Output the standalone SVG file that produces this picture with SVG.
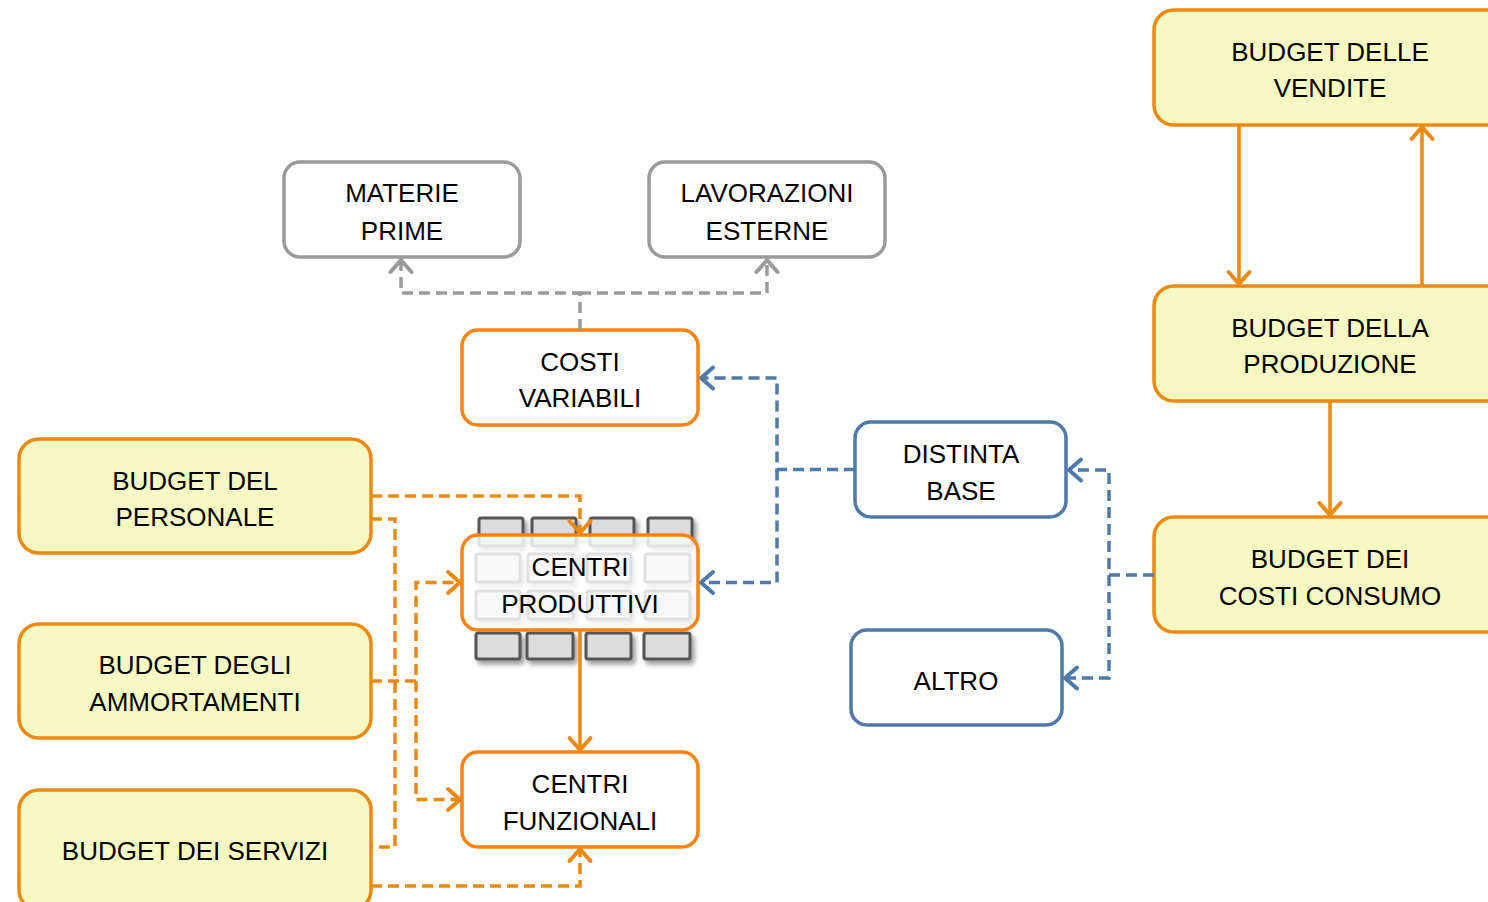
<svg xmlns="http://www.w3.org/2000/svg" width="1488" height="902" viewBox="0 0 1488 902">
<style>
  text { font-family: "Liberation Sans", Arial, sans-serif; font-size: 26px; fill: #000; text-anchor: middle; }
  .yb { fill: #F6FAC2; stroke: #EE8910; stroke-width: 3.5; }
  .ob { fill: #FFFFFF; stroke: #FA820F; stroke-width: 3.5; }
  .gb { fill: #FFFFFF; stroke: #9A9A9A; stroke-width: 3.5; }
  .bb { fill: #FFFFFF; stroke: #4E79A8; stroke-width: 3.5; }
  .cell { fill: #DCDCDC; stroke: #555555; stroke-width: 3; }
  .c { fill: none; stroke-width: 3.5; }
  .orange { stroke: #EE8910; }
  .gray { stroke: #9A9A9A; }
  .blue { stroke: #4E79A8; }
  .dash { stroke-dasharray: 11 6; }
</style>
<defs>
  <marker id="aO" markerUnits="userSpaceOnUse" viewBox="-16 -14 19 28" markerWidth="19" markerHeight="28" refX="0" refY="0" orient="auto">
    <path d="M-12,-10.5 L0,0 L-12,10.5" fill="none" stroke="#EE8910" stroke-width="4" stroke-linecap="round" stroke-linejoin="round"/>
  </marker>
  <marker id="aG" markerUnits="userSpaceOnUse" viewBox="-16 -14 19 28" markerWidth="19" markerHeight="28" refX="0" refY="0" orient="auto">
    <path d="M-12,-10.5 L0,0 L-12,10.5" fill="none" stroke="#9A9A9A" stroke-width="4" stroke-linecap="round" stroke-linejoin="round"/>
  </marker>
  <marker id="aB" markerUnits="userSpaceOnUse" viewBox="-16 -14 19 28" markerWidth="19" markerHeight="28" refX="0" refY="0" orient="auto">
    <path d="M-12,-10.5 L0,0 L-12,10.5" fill="none" stroke="#4E79A8" stroke-width="4" stroke-linecap="round" stroke-linejoin="round"/>
  </marker>
  <filter id="sh" x="-20%" y="-20%" width="150%" height="160%">
    <feDropShadow dx="3" dy="4" stdDeviation="2.5" flood-color="#000" flood-opacity="0.4"/>
  </filter>
</defs>

<g id="vendite">
  <rect class="yb" x="1154" y="10" width="360" height="115" rx="20"/>
  <text x="1330" y="61">BUDGET DELLE</text>
  <text x="1330" y="97">VENDITE</text>
</g>
<g id="produzione">
  <rect class="yb" x="1154" y="286" width="360" height="115" rx="20"/>
  <text x="1330" y="337">BUDGET DELLA</text>
  <text x="1330" y="373">PRODUZIONE</text>
</g>
<g id="consumo">
  <rect class="yb" x="1154" y="517" width="360" height="115" rx="20"/>
  <text x="1330" y="568">BUDGET DEI</text>
  <text x="1330" y="605">COSTI CONSUMO</text>
</g>
<g id="materie">
  <rect class="gb" x="284" y="162" width="236" height="95" rx="16"/>
  <text x="402" y="202">MATERIE</text>
  <text x="402" y="240">PRIME</text>
</g>
<g id="lavorazioni">
  <rect class="gb" x="649" y="162" width="236" height="95" rx="16"/>
  <text x="767" y="202">LAVORAZIONI</text>
  <text x="767" y="240">ESTERNE</text>
</g>
<g id="costi">
  <rect class="ob" x="462" y="330" width="236" height="95" rx="16"/>
  <text x="580" y="371">COSTI</text>
  <text x="580" y="407">VARIABILI</text>
</g>
<g id="personale">
  <rect class="yb" x="19" y="439" width="352" height="114" rx="20"/>
  <text x="195" y="490">BUDGET DEL</text>
  <text x="195" y="526">PERSONALE</text>
</g>
<g id="ammortamenti">
  <rect class="yb" x="19" y="624" width="352" height="114" rx="20"/>
  <text x="195" y="674">BUDGET DEGLI</text>
  <text x="195" y="711">AMMORTAMENTI</text>
</g>
<g id="servizi">
  <rect class="yb" x="19" y="790" width="352" height="120" rx="20"/>
  <text x="195" y="860">BUDGET DEI SERVIZI</text>
</g>
<g id="produttivi">
  <g filter="url(#sh)">
    <rect class="cell" x="479" y="518" width="44" height="28" rx="2"/>
    <rect class="cell" x="532" y="518" width="44" height="28" rx="2"/>
    <rect class="cell" x="590" y="518" width="44" height="28" rx="2"/>
    <rect class="cell" x="648" y="518" width="44" height="28" rx="2"/>
    <rect class="cell" x="476" y="554" width="44" height="28" rx="2"/>
    <rect class="cell" x="528" y="554" width="45" height="28" rx="2"/>
    <rect class="cell" x="587" y="554" width="44" height="28" rx="2"/>
    <rect class="cell" x="645" y="554" width="45" height="28" rx="2"/>
    <rect class="cell" x="476" y="591" width="44" height="28" rx="2"/>
    <rect class="cell" x="528" y="591" width="45" height="28" rx="2"/>
    <rect class="cell" x="587" y="591" width="44" height="28" rx="2"/>
    <rect class="cell" x="645" y="591" width="45" height="28" rx="2"/>
    <rect class="cell" x="476" y="633" width="44" height="26" rx="2"/>
    <rect class="cell" x="527" y="633" width="46" height="26" rx="2"/>
    <rect class="cell" x="586" y="633" width="45" height="26" rx="2"/>
    <rect class="cell" x="644" y="633" width="46" height="26" rx="2"/>
  </g>
  <rect x="462" y="535" width="236" height="95" rx="16" fill="#FFFFFF" fill-opacity="0.82" stroke="#FA820F" stroke-width="3.5"/>
  <text x="580" y="576">CENTRI</text>
  <text x="580" y="613">PRODUTTIVI</text>
</g>
<g id="funzionali">
  <rect class="ob" x="462" y="752" width="236" height="95" rx="16"/>
  <text x="580" y="793">CENTRI</text>
  <text x="580" y="830">FUNZIONALI</text>
</g>
<g id="distinta">
  <rect class="bb" x="855" y="422" width="211" height="95" rx="16"/>
  <text x="961" y="463">DISTINTA</text>
  <text x="961" y="500">BASE</text>
</g>
<g id="altro">
  <rect class="bb" x="851" y="630" width="211" height="95" rx="16"/>
  <text x="956" y="690">ALTRO</text>
</g>

<g id="connectors">
  <path class="c orange" d="M1239,125 V284" marker-end="url(#aO)"/>
  <path class="c orange" d="M1422,286 V127" marker-end="url(#aO)"/>
  <path class="c orange" d="M1330,401 V515" marker-end="url(#aO)"/>
  <path class="c orange" d="M580,630 V750" marker-end="url(#aO)"/>

  <path class="c gray dash" d="M580,330 V293 H401 V260" marker-end="url(#aG)"/>
  <path class="c gray dash" d="M580,293 H767 V260" marker-end="url(#aG)"/>

  <path class="c blue dash" d="M855,469.5 H777 V378 H701" marker-end="url(#aB)"/>
  <path class="c blue dash" d="M777,469.5 V582.5 H701" marker-end="url(#aB)"/>
  <path class="c blue dash" d="M1154,575 H1109 V470 H1069" marker-end="url(#aB)"/>
  <path class="c blue dash" d="M1109,575 V678 H1065" marker-end="url(#aB)"/>

  <path class="c orange dash" d="M371,496 H580 V533" marker-end="url(#aO)"/>
  <path class="c orange dash" d="M371,519 H395 V847 H371"/>
  <path class="c orange dash" d="M371,681 H416 V582.5 H460" marker-end="url(#aO)"/>
  <path class="c orange dash" d="M416,681 V799.5 H460" marker-end="url(#aO)"/>
  <path class="c orange dash" d="M371,886 H580 V849" marker-end="url(#aO)"/>
</g>
</svg>
